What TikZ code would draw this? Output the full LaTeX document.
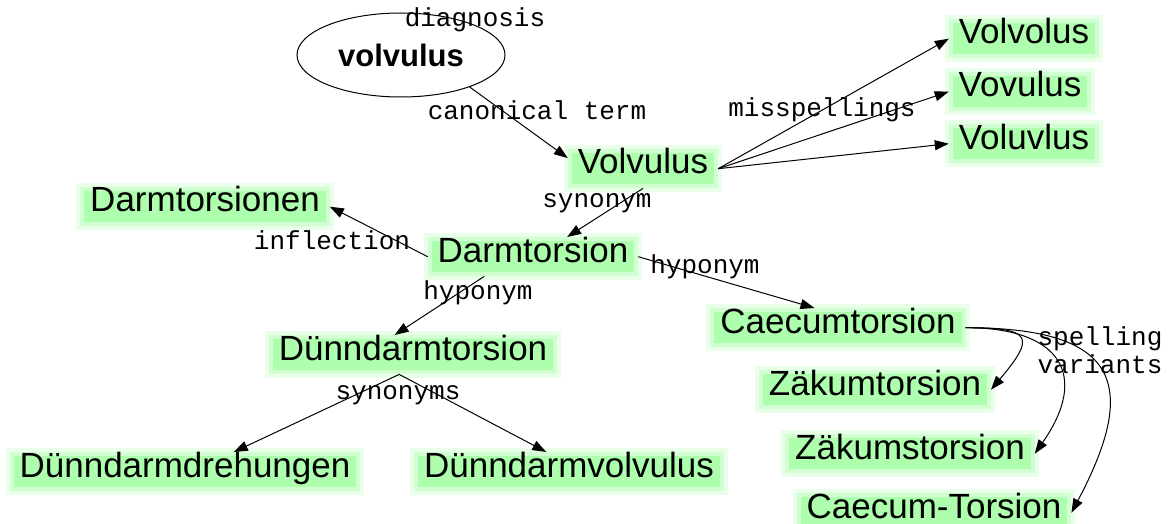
\documentclass[tikz,border=0pt]{standalone}
\usepackage{fontspec}
\setmainfont{Liberation Sans}
\newfontfamily\relfont{Liberation Mono}
\usetikzlibrary{arrows.meta,shapes.geometric}

\begin{document}
\begin{tikzpicture}[x=0.5pt, y=0.5pt, line width=0.5pt,
    >={Triangle[length=7pt,width=5pt]},
    term/.style={fill=termcol, draw=glowcol, line width=2pt, inner sep=4pt,
        preaction={draw=glowcol!45, line width=6pt},
        text height=0.75em, text depth=0.22em, anchor=base,
        font=\fontsize{17.5}{20}\selectfont},
    rel/.style={font=\relfont\fontsize{13}{14}\selectfont, inner sep=0pt}]
    % Define colors
    \colorlet{termcol}{green!32}
    \colorlet{glowcol}{green!18}

    \useasboundingbox (0,0) rectangle (1168,-524);

    % Source concept
    \node[ellipse, draw, minimum width=104pt, minimum height=42pt,
        font=\bfseries\fontsize{15.5}{18}\selectfont] (ell) at (401,-55) {volvulus};

    % Terms
    \node[term] (vol) at (643,-174) {Volvulus};
    \node[term] (volvolus) at (1024,-44) {Volvolus};
    \node[term] (vovulus) at (1020,-97) {Vovulus};
    \node[term] (voluvlus) at (1024,-149) {Voluvlus};
    \node[term] (dtn) at (205,-212) {Darmtorsionen};
    \node[term] (dt) at (533,-262) {Darmtorsion};
    \node[term] (ct) at (838,-333) {Caecumtorsion};
    \node[term] (dd) at (413,-360) {Dünndarmtorsion};
    \node[term] (zt) at (875,-395) {Zäkumtorsion};
    \node[term] (zs) at (910,-459) {Zäkumstorsion};
    \node[term] (ddh) at (185,-477) {Dünndarmdrehungen};
    \node[term] (ddv) at (569,-477) {Dünndarmvolvulus};
    \node[term] (cz) at (934,-518) {Caecum-Torsion};

    % Relations
    \draw[->] (ell.-25) -- (vol.172);
    \draw[->] (vol.east) -- (volvolus.west);
    \draw[->] (vol.east) -- (vovulus.west);
    \draw[->] (vol.east) -- (voluvlus.west);
    \draw[->] (vol.south) -- (dt.30);
    \draw[->] (dt.west) -- (dtn.east);
    \draw[->] (dt.east) -- (ct.140);
    \draw[->] (dt.202) -- (dd.133);
    \draw[->] (dd.235) -- (ddh.22);
    \draw[->] (dd.235) -- (ddv.139);
    \draw[->] (ct.east) to[out=0, in=50, looseness=2.6] (zt.east);
    \draw[->] (ct.east) to[out=0, in=55, looseness=1.7] (zs.east);
    \draw[->] (ct.east) to[out=0, in=62, looseness=1.8] (cz.east);

    % Relation labels
    \node[rel] (l-diag) at (475,-20) {diagnosis};
    \node[rel] (l-canon) at (537,-110) {canonical term};
    \node[rel] (l-missp) at (822,-110) {misspellings};
    \node[rel] (l-syn) at (597,-203) {synonym};
    \node[rel] (l-infl) at (332,-240) {inflection};
    \node[rel] (l-hypc) at (705,-267) {hyponym};
    \node[rel] (l-hypd) at (478,-293) {hyponym};
    \node[rel] (l-syns) at (398,-395) {synonyms};
    \node[rel, align=left] (l-spell) at (1100,-350) {spelling\\ variants};
\end{tikzpicture}
\end{document}
